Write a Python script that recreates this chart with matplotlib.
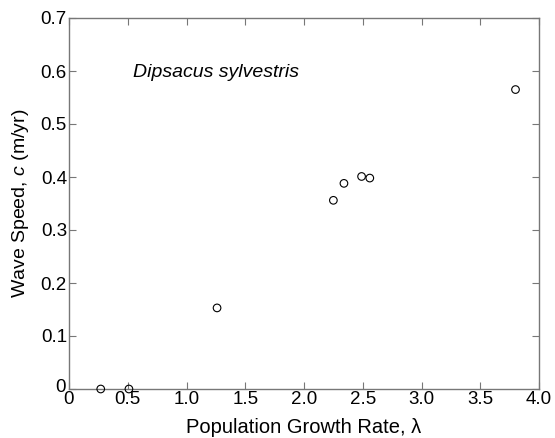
import matplotlib
matplotlib.use("Agg")
import matplotlib.pyplot as plt
from matplotlib.transforms import ScaledTranslation

growth_rate = [0.27, 0.51, 1.26, 2.25, 2.34, 2.49, 2.56, 3.80]
wave_speed = [0.0, 0.0, 0.153, 0.356, 0.388, 0.401, 0.398, 0.565]
xticks = [0, 0.5, 1.0, 1.5, 2.0, 2.5, 3.0, 3.5, 4.0]
xticklabels = ["0", "0.5", "1.0", "1.5", "2.0", "2.5", "3.0", "3.5", "4.0"]
yticks = [0, 0.1, 0.2, 0.3, 0.4, 0.5, 0.6, 0.7]
yticklabels = ["0", "0.1", "0.2", "0.3", "0.4", "0.5", "0.6", "0.7"]

plt.rcParams['font.family'] = ['Liberation Sans', 'DejaVu Sans']
plt.rcParams['mathtext.fontset'] = 'custom'
plt.rcParams['mathtext.it'] = 'Liberation Sans:italic'
plt.rcParams['mathtext.rm'] = 'Liberation Sans'

fig = plt.figure(figsize=(5.55, 4.38), dpi=100)
ax = fig.add_axes([69/555, 1-389/438, 470/555, 371/438])

ax.scatter(growth_rate, wave_speed, s=30, facecolors='none', edgecolors='black',
           linewidths=0.8, clip_on=False, zorder=3)

ax.set_xlim(0, 4.0)
ax.set_ylim(0, 0.7)
ax.set_xticks(xticks)
ax.set_xticklabels(xticklabels)
ax.set_yticks(yticks)
ax.set_yticklabels(yticklabels)
ax.tick_params(direction='in', length=5, width=0.8, color='#777777',
               labelsize=13.5, top=True, right=True, pad=1.5)
for sp in ax.spines.values():
    sp.set_color('#777777')
    sp.set_linewidth(1.0)

# nudge the y-axis "0" label up slightly so it does not collide with the x-axis "0"
ylab0 = ax.get_yticklabels()[0]
ylab0.set_transform(ylab0.get_transform() + ScaledTranslation(-1/100, 4/100, fig.dpi_scale_trans))

ax.set_xlabel("Population Growth Rate, λ", fontsize=14.5, labelpad=7)
ax.set_ylabel("Wave Speed, $c$ (m/yr)", fontsize=14, labelpad=7)

ax.text(0.545, 0.598, "Dipsacus sylvestris", fontsize=14, style='italic',
        va='center', ha='left')

fig.savefig("out.png", dpi=100)
